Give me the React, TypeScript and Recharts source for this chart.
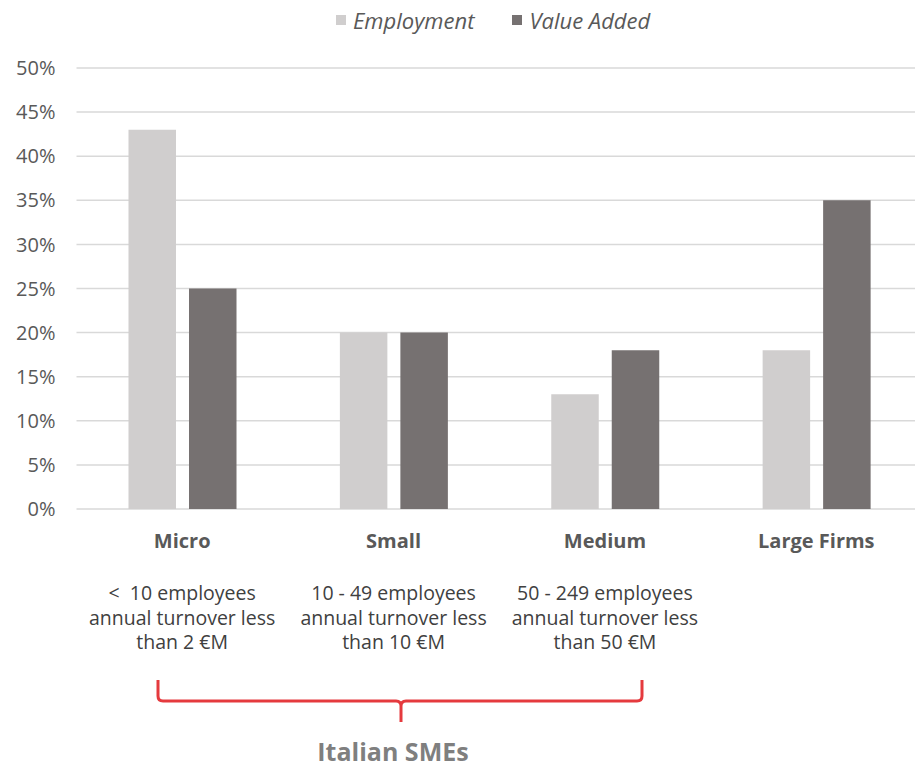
import React from "react";
import { BarChart, Bar, XAxis, YAxis, CartesianGrid } from "recharts";

const categories = ["Micro", "Small", "Medium", "Large Firms"];
const descriptions = [
  ["<  10 employees", "annual turnover less", "than 2 €M"],
  ["10 - 49 employees", "annual turnover less", "than 10 €M"],
  ["50 - 249 employees", "annual turnover less", "than 50 €M"],
  [],
];
const employment = [43, 20, 13, 18];
const valueAdded = [25, 20, 18, 35];
const yTicks = [0, 5, 10, 15, 20, 25, 30, 35, 40, 45, 50];
const seriesNames = ["Employment", "Value Added"];
const groupLabel = "Italian SMEs";

const data = categories.map((c, i) => ({
  name: c,
  employment: employment[i],
  valueAdded: valueAdded[i],
}));

const FONT = "'Open Sans', Lato, sans-serif";
const LIGHT = "#d0cece";
const DARK = "#767171";
const TEXT = "#595959";

const CategoryTick = (props: any) => {
  const { x, y, payload, index } = props;
  const base = y - 8;
  const lines = descriptions[index] || [];
  return (
    <g>
      <text
        x={x}
        y={base + 39}
        textAnchor="middle"
        fontFamily={FONT}
        fontWeight={700}
        fontSize={20}
        fill={TEXT}
      >
        {payload.value}
      </text>
      {lines.map((l: string, k: number) => (
        <text
          key={k}
          x={x}
          y={base + 91 + k * 24.5}
          textAnchor="middle"
          fontFamily={FONT}
          fontSize={19.5}
          fill="#404040"
          style={{ whiteSpace: "pre" }}
        >
          {l}
        </text>
      ))}
    </g>
  );
};

export default function App() {
  return (
    <div
      style={{
        position: "absolute",
        left: 0,
        top: 0,
        width: 915,
        height: 769,
        overflow: "hidden",
        background: "#fff",
      }}
    >
      <BarChart
        width={922}
        height={769}
        data={data}
        margin={{ top: 68, right: 0, left: 0, bottom: 0 }}
        barGap={13}
        barSize={47.5}
      >
        <CartesianGrid vertical={false} stroke="#d9d9d9" strokeWidth={1.5} />
        <XAxis
          dataKey="name"
          height={260}
          axisLine={false}
          tickLine={false}
          tick={<CategoryTick />}
          interval={0}
        />
        <YAxis
          width={76.5}
          domain={[0, 50]}
          ticks={yTicks}
          tickFormatter={(v: number) => `${v}%`}
          axisLine={false}
          tickLine={false}
          tickMargin={15}
          tick={{ fill: TEXT, fontSize: 20, fontFamily: FONT }}
        />
        <Bar dataKey="employment" name={seriesNames[0]} fill={LIGHT} isAnimationActive={false} />
        <Bar dataKey="valueAdded" name={seriesNames[1]} fill={DARK} isAnimationActive={false} />
      </BarChart>
      <div
        style={{
          position: "absolute",
          left: 336,
          top: 5,
          display: "flex",
          alignItems: "center",
          fontFamily: FONT,
          fontStyle: "italic",
          fontSize: 22,
          color: TEXT,
          whiteSpace: "nowrap",
        }}
      >
        {seriesNames.map((n, i) => (
          <div key={n} style={{ display: "flex", alignItems: "center", marginRight: i === 0 ? 38 : 0 }}>
            <span
              style={{
                display: "inline-block",
                width: 10,
                height: 10,
                background: i === 0 ? LIGHT : DARK,
                marginRight: 7,
              }}
            />
            <span>{n}</span>
          </div>
        ))}
      </div>
      <svg
        width={915}
        height={769}
        style={{ position: "absolute", left: 0, top: 0, pointerEvents: "none" }}
      >
        <path
          d="M158,680 L158,696 Q158,701 163,701 L396,701 Q401,701 401,706 L401,722 M401,706 Q401,701 406,701 L637,701 Q642,701 642,696 L642,680"
          fill="none"
          stroke="#e53a3e"
          strokeWidth={3}
        />
        <text
          x={393}
          y={761}
          textAnchor="middle"
          fontFamily={FONT}
          fontWeight={700}
          fontSize={25}
          fill="#7f7f7f"
        >
          {groupLabel}
        </text>
      </svg>
    </div>
  );
}
